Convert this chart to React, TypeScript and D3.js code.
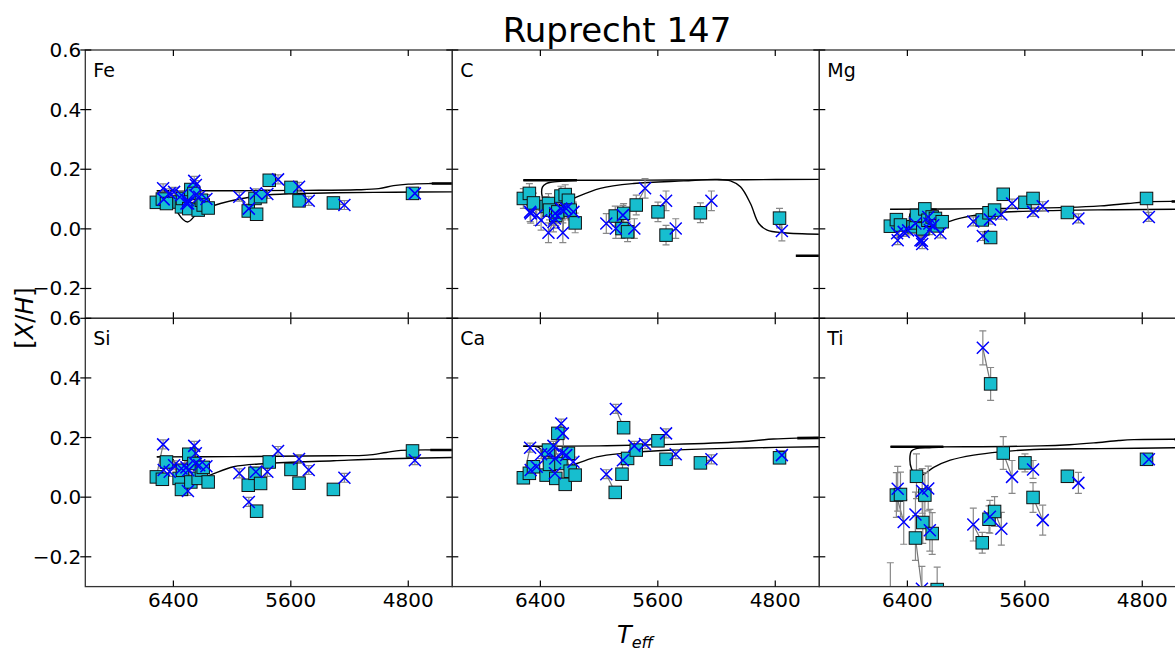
import React from 'react';
import * as d3 from 'd3';

// Star temperatures (square = one Teff scale, cross = the other)
const TEFF_SQ = [6516, 6475, 6447, 6361, 6345, 6338, 6295, 6281, 6260, 6231, 6209, 6197, 6163, 5890, 5844, 5833, 5806, 5747, 5599, 5544, 5310, 4771];
const TEFF_X = [6470, 6425, 6466, 6395, 6301, 6258, 6345, 6299, 6311, 6247, 6250, 6224, 6175, 5951, 5838, 5886, 5760, 5687, 5544, 5478, 5235, 4755];

const FE_SQ = [0.089, 0.10, 0.085, 0.09, 0.074, 0.102, 0.068, 0.132, 0.119, 0.063, 0.096, 0.08, 0.07, 0.06, 0.102, 0.049, 0.108, 0.163, 0.139, 0.094, 0.087, 0.119];
const FE_X = [0.136, 0.119, 0.099, 0.124, 0.096, 0.161, 0.113, 0.085, 0.085, 0.147, 0.113, 0.108, 0.10, 0.108, 0.119, 0.068, 0.117, 0.166, 0.141, 0.094, 0.08, 0.119];

const C_SQ = [0.102, 0.119, 0.087, 0.075, 0.085, 0.063, 0.045, 0.057, 0.11, 0.115, 0.096, 0.063, 0.02, 0.043, 0.001, 0.052, -0.01, 0.08, 0.057, -0.021, 0.054, 0.036];
const C_X = [0.057, 0.045, 0.052, 0.029, 0.035, 0.068, -0.013, 0.052, 0.023, -0.013, 0.063, 0.068, 0.057, 0.018, 0.046, 0.001, 0.001, 0.136, 0.094, 0.001, 0.094, -0.007];

const MG_SQ = [0.009, 0.031, 0.013, 0.007, 0.02, 0.045, 0.0, 0.067, 0.029, 0.04, 0.035, 0.01, 0.024, 0.03, 0.054, -0.029, 0.063, 0.116, 0.089, 0.102, 0.055, 0.102];
const MG_X = [-0.015, -0.01, -0.038, -0.005, -0.04, 0.04, 0.018, -0.051, -0.038, -0.004, 0.018, 0.012, -0.015, 0.025, 0.031, -0.024, 0.048, 0.085, 0.057, 0.076, 0.035, 0.04];

const SI_SQ = [0.068, 0.06, 0.118, 0.063, 0.026, 0.09, 0.144, 0.051, 0.113, 0.063, 0.091, 0.1, 0.051, 0.04, 0.08, -0.047, 0.046, 0.118, 0.093, 0.047, 0.026, 0.155];
const SI_X = [0.177, 0.085, 0.091, 0.107, 0.021, 0.172, 0.096, 0.09, 0.10, 0.147, 0.113, 0.107, 0.104, 0.08, 0.085, -0.016, 0.085, 0.155, 0.128, 0.091, 0.065, 0.124];

const CA_SQ = [0.065, 0.080, 0.102, 0.074, 0.158, 0.11, 0.063, 0.214, 0.113, 0.043, 0.147, 0.087, 0.074, 0.016, 0.077, 0.233, 0.13, 0.158, 0.189, 0.127, 0.115, 0.132];
const CA_X = [0.166, 0.102, 0.091, 0.144, 0.08, 0.247, 0.144, 0.13, 0.172, 0.214, 0.147, 0.141, 0.119, 0.077, 0.124, 0.296, 0.172, 0.178, 0.214, 0.144, 0.127, 0.141];

const TI_SQ = [-0.34, 0.007, 0.009, null, -0.137, 0.07, -0.085, 0.007, null, -0.122, null, -0.31, null, -0.153, -0.074, 0.38, -0.048, 0.148, 0.115, -0.001, 0.07, 0.127];
const TI_X = [null, -0.083, 0.028, null, -0.307, 0.029, -0.058, 0.021, null, -0.111, null, null, null, -0.092, -0.066, 0.501, -0.106, 0.068, 0.093, -0.077, 0.048, 0.127];
const TI_ERR_SQ = [0.12, 0.075, 0.075, 0, 0.075, 0.075, 0.07, 0.075, 0, 0.07, 0, 0.075, 0, 0.035, 0.045, 0.055, 0.05, 0.055, 0.03, 0.05, 0.02, 0.01];
const TI_ERR_X = [0, 0.075, 0.075, 0, 0.075, 0.075, 0.075, 0.075, 0, 0.07, 0, 0, 0, 0.055, 0.055, 0.057, 0.055, 0.055, 0.03, 0.05, 0.035, 0.01];

// Model tracks: [Teff, [X/H]]
type P = [number, number];
const FE_LOW: P[] = [[4500, 0.124], [4900, 0.123], [5300, 0.121], [5600, 0.118], [5800, 0.112], [5950, 0.1], [6080, 0.085], [6150, 0.074], [6240, 0.05], [6304, 0.023], [6365, 0.05], [6400, 0.1], [6425, 0.125], [6460, 0.128], [6513, 0.128]];
const FE_HIGH: P[] = [[6513, 0.128], [6000, 0.128], [5500, 0.129], [5150, 0.131], [5000, 0.135], [4900, 0.145], [4800, 0.15], [4650, 0.152], [4500, 0.152]];
const FE_THICK: P[][] = [[[4640, 0.152], [4500, 0.152]]];

const C_LOW: P[] = [[4500, -0.018], [4742, -0.013], [4855, -0.004], [4912, 0.018], [4969, 0.085], [5037, 0.141], [5105, 0.161], [5196, 0.166], [5424, 0.161], [5765, 0.152], [5992, 0.136], [6151, 0.107], [6240, 0.085], [6320, 0.08], [6375, 0.095], [6390, 0.115], [6386, 0.14], [6360, 0.152], [6330, 0.156], [6250, 0.16], [6151, 0.163]];
const C_HIGH: P[] = [[6516, 0.163], [6000, 0.163], [5500, 0.164], [5000, 0.165], [4500, 0.166]];
const C_THICK: P[][] = [[[6516, 0.163], [6151, 0.163]], [[4660, -0.09], [4500, -0.09]]];

const MG_LOW: P[] = [[4500, 0.066], [5000, 0.064], [5345, 0.062], [5800, 0.054], [6030, 0.037], [6210, 0.01], [6300, 0.0], [6365, 0.015], [6385, 0.04], [6370, 0.058], [6320, 0.065], [6200, 0.066]];
const MG_HIGH: P[] = [[6518, 0.066], [5800, 0.068], [5300, 0.072], [5084, 0.077], [4900, 0.085], [4766, 0.091], [4500, 0.092]];
const MG_THICK: P[][] = [[[4600, 0.092], [4500, 0.092]]];

const SI_LOW: P[] = [[4500, 0.133], [5000, 0.128], [5308, 0.122], [5762, 0.113], [5990, 0.102], [6150, 0.074], [6240, 0.06], [6304, 0.05], [6370, 0.09], [6400, 0.125], [6440, 0.135], [6513, 0.135]];
const SI_HIGH: P[] = [[6513, 0.135], [6000, 0.136], [5300, 0.139], [5080, 0.141], [4950, 0.15], [4850, 0.157], [4500, 0.158]];
const SI_THICK: P[][] = [[[4650, 0.158], [4500, 0.158]]];

const CA_LOW: P[] = [[4500, 0.169], [5000, 0.165], [5492, 0.158], [5833, 0.147], [6015, 0.135], [6151, 0.113], [6250, 0.1], [6330, 0.11], [6385, 0.14], [6405, 0.165], [6450, 0.171], [6516, 0.171]];
const CA_HIGH: P[] = [[6516, 0.171], [6000, 0.172], [5500, 0.177], [5037, 0.186], [4813, 0.195], [4650, 0.198], [4500, 0.199]];
const CA_THICK: P[][] = [[[4650, 0.198], [4500, 0.199]]];

const TI_LOW: P[] = [[4500, 0.166], [5085, 0.163], [5540, 0.16], [5767, 0.152], [5949, 0.141], [6108, 0.124], [6221, 0.10], [6300, 0.074], [6345, 0.075], [6372, 0.095], [6383, 0.13], [6372, 0.155], [6340, 0.163], [6250, 0.166], [6155, 0.168]];
const TI_HIGH: P[] = [[6515, 0.169], [6000, 0.169], [5500, 0.172], [5296, 0.176], [5130, 0.182], [4960, 0.19], [4858, 0.193], [4500, 0.194]];
const TI_THICK: P[][] = [[[6515, 0.169], [6155, 0.169]], [[4580, 0.194], [4500, 0.194]]];

const X_TICKS = [6400, 5600, 4800];
const Y_TICKS = [-0.2, 0.0, 0.2, 0.4, 0.6];
const X_DOMAIN = [7000, 4500];
const Y_DOMAIN = [-0.3, 0.6];

const PANELS = [
  { name: 'Fe', row: 0, col: 0, sq: FE_SQ, x: FE_X, errSq: 0.015, errX: 0.015, low: FE_LOW, high: FE_HIGH, thick: FE_THICK },
  { name: 'C', row: 0, col: 1, sq: C_SQ, x: C_X, errSq: 0.033, errX: 0.033, low: C_LOW, high: C_HIGH, thick: C_THICK },
  { name: 'Mg', row: 0, col: 2, sq: MG_SQ, x: MG_X, errSq: 0.015, errX: 0.015, low: MG_LOW, high: MG_HIGH, thick: MG_THICK },
  { name: 'Si', row: 1, col: 0, sq: SI_SQ, x: SI_X, errSq: 0.015, errX: 0.015, low: SI_LOW, high: SI_HIGH, thick: SI_THICK },
  { name: 'Ca', row: 1, col: 1, sq: CA_SQ, x: CA_X, errSq: 0.015, errX: 0.015, low: CA_LOW, high: CA_HIGH, thick: CA_THICK },
  { name: 'Ti', row: 1, col: 2, sq: TI_SQ, x: TI_X, errSq: TI_ERR_SQ, errX: TI_ERR_X, low: TI_LOW, high: TI_HIGH, thick: TI_THICK },
];

const W = 1175, H = 652;
const LEFT0 = 85.3, TOP0 = 50, PW = 367, PH = 268.3;
const FONT = 'DejaVu Sans, sans-serif';
const TL = 6;

const errAt = (e: number | number[], i: number) => (Array.isArray(e) ? e[i] : e);
const fmt = d3.format('.1f');

function Panel({ p, idx }: { p: any; idx: number }) {
  const x0 = LEFT0 + p.col * PW;
  const y0 = TOP0 + p.row * PH;
  const xs = d3.scaleLinear().domain(X_DOMAIN).range([x0, x0 + PW]);
  const ys = d3.scaleLinear().domain(Y_DOMAIN).range([y0 + PH, y0]);
  const line = d3.line<P>().x(d => xs(d[0])).y(d => ys(d[1])).curve(d3.curveCatmullRom.alpha(0.5));
  const straight = d3.line<P>().x(d => xs(d[0])).y(d => ys(d[1]));
  const clipId = `clip${idx}`;
  const half = 6.25;
  const cap = 3.5;

  const errBar = (cx: number, v: number, e: number, key: string) => {
    if (!e) return null;
    const yt = ys(v + e), yb = ys(v - e);
    return (
      <g key={key} stroke="#888" strokeWidth={1.2}>
        <line x1={cx} x2={cx} y1={yt} y2={yb} />
        <line x1={cx - cap} x2={cx + cap} y1={yt} y2={yt} />
        <line x1={cx - cap} x2={cx + cap} y1={yb} y2={yb} />
      </g>
    );
  };

  const n = TEFF_SQ.length;
  const idxs = d3.range(n);

  return (
    <g>
      <defs>
        <clipPath id={clipId}>
          <rect x={x0} y={y0} width={PW} height={PH} />
        </clipPath>
      </defs>
      <g clipPath={`url(#${clipId})`}>
        <path d={line(p.low) || ''} fill="none" stroke="#000" strokeWidth={1.4} />
        <path d={line(p.high) || ''} fill="none" stroke="#000" strokeWidth={1.4} />
        {p.thick.map((seg: P[], i: number) => (
          <path key={i} d={straight(seg) || ''} fill="none" stroke="#000" strokeWidth={2.6} />
        ))}
        {idxs.map(i => {
          const a = p.sq[i], b = p.x[i];
          return (
            <g key={'e' + i}>
              {a !== null && errBar(xs(TEFF_SQ[i]), a, errAt(p.errSq, i), 's')}
              {b !== null && errBar(xs(TEFF_X[i]), b, errAt(p.errX, i), 'x')}
              {a !== null && b !== null && (
                <line x1={xs(TEFF_SQ[i])} y1={ys(a)} x2={xs(TEFF_X[i])} y2={ys(b)} stroke="#777" strokeWidth={1.2} />
              )}
            </g>
          );
        })}
        {idxs.map(i => {
          const a = p.sq[i];
          if (a === null) return null;
          return (
            <rect key={'s' + i} x={xs(TEFF_SQ[i]) - half} y={ys(a) - half} width={half * 2} height={half * 2}
              fill="#17becf" stroke="#111" strokeWidth={1} />
          );
        })}
        {idxs.map(i => {
          const b = p.x[i];
          if (b === null) return null;
          const cx = xs(TEFF_X[i]), cy = ys(b), r = 6;
          return (
            <path key={'x' + i} d={`M${cx - r},${cy - r}L${cx + r},${cy + r}M${cx - r},${cy + r}L${cx + r},${cy - r}`}
              stroke="#0000ff" strokeWidth={1.5} fill="none" />
          );
        })}
      </g>
      {/* frame */}
      <rect x={x0} y={y0} width={PW} height={PH} fill="none" stroke="#333" strokeWidth={1.3} />
      {/* x ticks (inward, top and bottom) */}
      {X_TICKS.map(t => (
        <g key={'xt' + t} stroke="#000" strokeWidth={1.2}>
          <line x1={xs(t)} x2={xs(t)} y1={y0} y2={y0 + TL} />
          <line x1={xs(t)} x2={xs(t)} y1={y0 + PH} y2={y0 + PH - TL} />
        </g>
      ))}
      {/* y ticks */}
      {Y_TICKS.map(t => (
        <g key={'yt' + t} stroke="#000" strokeWidth={1.2}>
          <line x1={x0 - (p.col === 0 ? 5 : 0)} x2={x0 + TL} y1={ys(t)} y2={ys(t)} />
          <line x1={x0 + PW} x2={x0 + PW - TL} y1={ys(t)} y2={ys(t)} />
        </g>
      ))}
      {p.col === 0 && Y_TICKS.map(t => (
        <text key={'yl' + t} x={x0 - 4} y={ys(t)} dy="0.35em" textAnchor="end" fontSize={20} fontFamily={FONT} fill="#000">
          {fmt(t)}
        </text>
      ))}
      {p.row === 1 && X_TICKS.map(t => (
        <text key={'xl' + t} x={xs(t)} y={y0 + PH + 20} textAnchor="middle" fontSize={20} fontFamily={FONT} fill="#000">
          {String(t)}
        </text>
      ))}
      <text x={x0 + 8} y={y0 + 27} fontSize={19} fontFamily={FONT} fill="#000">{p.name}</text>
    </g>
  );
}

export default function App() {
  return (
    <svg width={W} height={H} viewBox={`0 0 ${W} ${H}`}
      style={{ position: 'absolute', left: 0, top: 0, background: '#fff', overflow: 'hidden' }}>
      <rect x={0} y={0} width={W} height={H} fill="#fff" />
      <text x={617} y={42} textAnchor="middle" fontSize={34} fontFamily={FONT} fill="#000">Ruprecht 147</text>
      {PANELS.map((p, i) => <Panel key={p.name} p={p} idx={i} />)}
      <text transform="translate(33,318) rotate(-90)" textAnchor="middle" fontSize={24} fontFamily={FONT} fill="#000">
        [<tspan fontStyle="italic">X</tspan>/<tspan fontStyle="italic">H</tspan>]
      </text>
      <text x={617} y={643} fontSize={24} fontFamily={FONT} fill="#000">
        <tspan fontStyle="italic">T</tspan>
        <tspan fontStyle="italic" fontSize={16} dy={5}>eff</tspan>
      </text>
    </svg>
  );
}
